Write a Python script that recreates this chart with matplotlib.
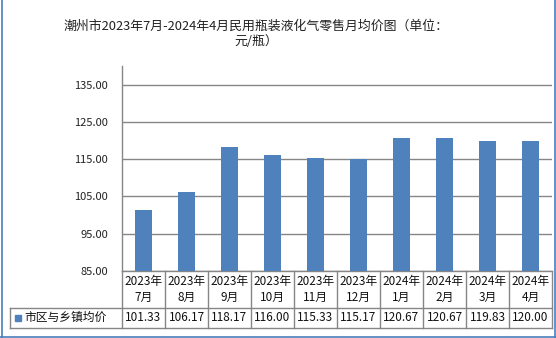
import matplotlib
matplotlib.use("Agg")
import matplotlib.pyplot as plt
import matplotlib.transforms as mtransforms
from matplotlib.lines import Line2D
from matplotlib.patches import Rectangle

plt.rcParams['font.family'] = ['Noto Sans CJK SC', 'DejaVu Sans']

months = ['2023年\n7月', '2023年\n8月', '2023年\n9月', '2023年\n10月', '2023年\n11月',
          '2023年\n12月', '2024年\n1月', '2024年\n2月', '2024年\n3月', '2024年\n4月']
prices = [101.33, 106.17, 118.17, 116.00, 115.33, 115.17, 120.67, 120.67, 119.83, 120.00]
series_name = '市区与乡镇均价'
title = '潮州市2023年7月-2024年4月民用瓶装液化气零售月均价图（单位：\n元/瓶）'
yticks = [85, 95, 105, 115, 125, 135]

bar_color = '#4F81BD'
grid_color = '#868686'
W, H = 556, 338

fig = plt.figure(figsize=(W / 100, H / 100), dpi=100)
ax = fig.add_axes([122 / W, (H - 271) / H, 430 / W, 205 / H])

x = list(range(len(prices)))
ax.bar(x, prices, width=0.41, color=bar_color, zorder=3)
ax.set_xlim(-0.5, len(prices) - 0.5)
ax.set_ylim(85, 140)
ax.set_yticks(yticks)
ax.set_yticklabels([f'{v:.2f}' for v in yticks], fontsize=8, color='#222222')
ax.tick_params(axis='y', length=0, pad=10)
ax.tick_params(axis='x', bottom=False, labelbottom=False)
ax.yaxis.grid(True, color=grid_color, linewidth=1.0, zorder=0)
for s in ['top', 'right', 'bottom']:
    ax.spines[s].set_visible(False)
ax.spines['left'].set_color(grid_color)
ax.spines['left'].set_linewidth(1.0)

# data table under the plot: x from the data scale, y in axes units
tr = mtransforms.blended_transform_factory(ax.transData, ax.transAxes)
r1_bot = -36.7 / 205
r2_bot = -56.7 / 205
left_ax = (10 - 122) / 430
lw = 1.0
for i in range(len(prices) + 1):
    ax.add_line(Line2D([i - 0.5, i - 0.5], [0, r2_bot], transform=tr, color=grid_color,
                       lw=lw, clip_on=False))
ax.add_line(Line2D([-0.5, len(prices) - 0.5], [0, 0], transform=tr, color=grid_color,
                   lw=lw, clip_on=False))
for yy in (r1_bot, r2_bot):
    ax.add_line(Line2D([left_ax, 1], [yy, yy], transform=ax.transAxes, color=grid_color,
                       lw=lw, clip_on=False))
ax.add_line(Line2D([left_ax, left_ax], [r1_bot, r2_bot], transform=ax.transAxes,
                   color=grid_color, lw=lw, clip_on=False))

for i, (m, p) in enumerate(zip(months, prices)):
    ax.text(i, r1_bot / 2, m, transform=tr, ha='center', va='center', fontsize=8.5,
            linespacing=1.25, color='#111111')
    ax.text(i, (r1_bot + r2_bot) / 2, f'{p:.2f}', transform=tr, ha='center', va='center',
            fontsize=8.5, color='#111111')

# legend key in the row header
key_y = (r1_bot + r2_bot) / 2
ax.add_patch(Rectangle(((15 - 122) / 430, key_y - 3 / 205), 6 / 430, 6 / 205,
                       transform=ax.transAxes, color=bar_color, clip_on=False))
ax.text((24 - 122) / 430, key_y, series_name, transform=ax.transAxes, ha='left',
        va='center', fontsize=8.5, color='#111111')

fig.text(256 / W, 1 - 34 / H, title, ha='center', va='center', fontsize=9.3,
         linespacing=1.25, color='#222222')

# chart frame
frame_color = '#4A7EBB'
for xs, ys in [([1.5, 1.5], [0, H]), ([554.5, 554.5], [0, H]), ([0, W], [1.5, 1.5])]:
    fig.add_artist(Line2D([v / W for v in xs], [v / H for v in ys], color=frame_color, lw=1.2))

fig.savefig('out.png', dpi=100)
